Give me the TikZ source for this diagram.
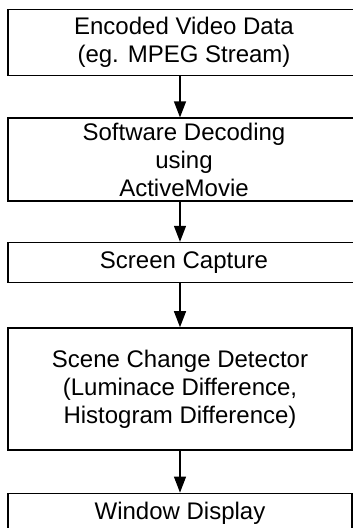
\documentclass[tikz,border=0pt]{standalone}
\usepackage{fontspec}
\setmainfont{Liberation Sans}
\usepackage{tikz}
\usetikzlibrary{positioning, arrows.meta}
\tikzstyle{block} = [rectangle, minimum width=344pt, text centered, align=center, draw=black, line width=1.4pt, inner sep=2pt, font=\fontsize{24}{28}\selectfont]
\tikzstyle{wideblock} = [block, minimum width=352pt]
\tikzstyle{arrow} = [line width=1.2pt, -{Triangle[width=12pt, length=16pt]}]

\begin{document}
\begin{tikzpicture}[node distance=41pt]
	
	\useasboundingbox (0,0) rectangle (353pt,-528pt);
	
	\node (encoded) [wideblock, minimum height=66pt, anchor=north] at (184pt,-9pt) {Encoded Video Data\\(eg. MPEG Stream)};
	\node (decoding) [wideblock, minimum height=83pt, below=of encoded] {Software Decoding\\using\\ActiveMovie};
	\node (capture) [wideblock, minimum height=40pt, below=40pt of decoding] {Screen Capture};
	\node (detector) [block, minimum height=122pt, below=44pt of capture, xshift=-4pt] {Scene Change Detector\\(Luminace Difference,\\Histogram Difference)};
	\node (display) [block, minimum height=39pt, below=42pt of detector] {Window Display};
	
	\draw [arrow] (encoded.south -| detector) -- (decoding.north -| detector);
	\draw [arrow] (decoding.south -| detector) -- (capture.north -| detector);
	\draw [arrow] (capture.south -| detector) -- (detector);
	\draw [arrow] (detector) -- (display);
	
\end{tikzpicture}
\end{document}
